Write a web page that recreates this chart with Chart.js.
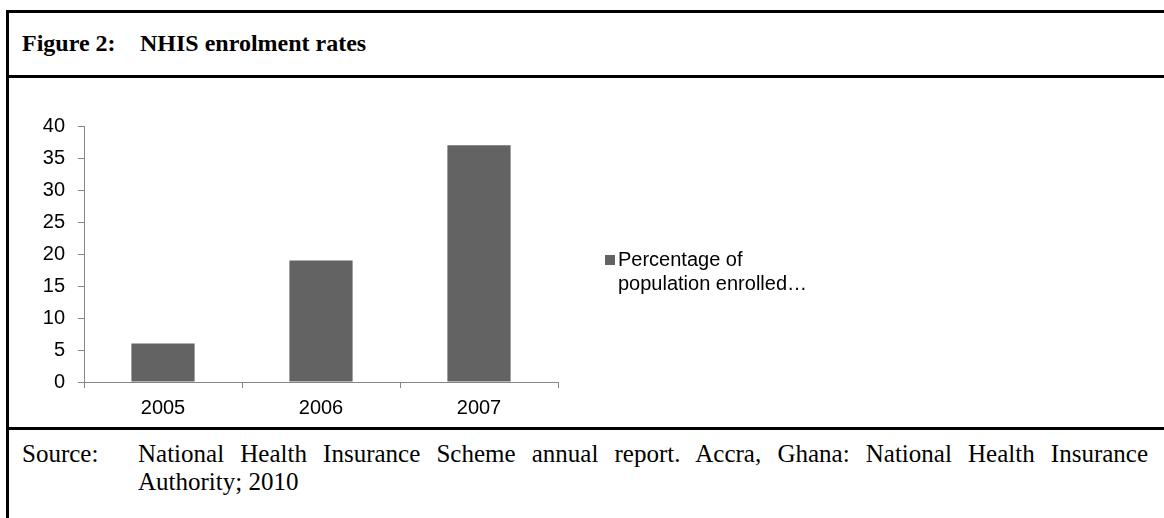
<!DOCTYPE html>
<html>
<head>
<meta charset="utf-8">
<script src="https://cdn.jsdelivr.net/npm/chart.js@4.4.1/dist/chart.umd.min.js"></script>
<style>
  html, body { margin: 0; padding: 0; background: #fff; }
  body { width: 1164px; height: 518px; position: relative; overflow: hidden; }
  .frame { position: absolute; left: 6px; top: 10px; width: 1200px; height: 600px;
           border-left: 3px solid #000; border-top: 3px solid #000; }
  .rule { position: absolute; left: 6px; width: 1200px; height: 3px; background: #000; }
  .serif { font-family: "Liberation Serif", "Times New Roman", serif; color: #000; }
  .title { position: absolute; top: 31px; font-weight: bold; font-size: 24px; line-height: 24px; white-space: nowrap; }
  #chartWrap { position: absolute; left: 9px; top: 78px; }
  .legend { position: absolute; left: 605px; top: 247px; font-family: "Liberation Sans", Arial, sans-serif;
            font-size: 20px; line-height: 24px; color: #000; }
  .legend .box { position: absolute; left: 0; top: 8px; width: 10px; height: 10px; }
  .legend .txt { margin-left: 13px; width: 200px; }
  .src { position: absolute; top: 440px; font-size: 25px; line-height: 28px; }
</style>
</head>
<body>
<div class="frame"></div>
<div class="rule" style="top:75px"></div>
<div class="rule" style="top:427px"></div>
<div class="title serif" style="left:22px">Figure 2:</div>
<div class="title serif" style="left:140px">NHIS enrolment rates</div>

<div id="chartWrap"><canvas id="nhisChart" width="1155" height="348"></canvas></div>
<div class="legend" id="legend"></div>

<div class="src serif" style="left:22px">Source:</div>
<div class="src serif" style="left:138px; width:1010px; text-align:justify; word-spacing:2px">National Health Insurance Scheme annual report. Accra, Ghana: National Health Insurance <span style="word-spacing:0">Authority; 2010</span></div>

<script>
  // Data
  const years = ['2005', '2006', '2007'];
  const enrolled = [6, 19, 37];
  const seriesLabel = 'Percentage of population enrolled…';
  const yMin = 0;
  const yMax = 40;
  const yStep = 5;

  const barColor = '#636363';
  const axisColor = '#868686';
  const tickFont = { family: '"Liberation Sans", Arial, sans-serif', size: 20 };

  // Legend (kept in HTML so it wraps like the original)
  const legend = document.getElementById('legend');
  legend.innerHTML = '<div class="box" style="background:' + barColor + '"></div>' +
                     '<div class="txt">' + seriesLabel + '</div>';

  const ctx = document.getElementById('nhisChart');
  new Chart(ctx, {
    type: 'bar',
    data: {
      labels: years,
      datasets: [{
        label: seriesLabel,
        data: enrolled,
        backgroundColor: barColor,
        borderWidth: 0,
        barPercentage: 0.4,
        categoryPercentage: 1.0
      }]
    },
    options: {
      responsive: false,
      animation: false,
      layout: { padding: { left: 0, right: 606, top: 48, bottom: 0 } },
      plugins: {
        legend: { display: false },
        tooltip: { enabled: false }
      },
      scales: {
        x: {
          grid: { offset: true, drawOnChartArea: false, tickLength: 6, color: axisColor },
          border: { color: axisColor },
          ticks: { color: '#000', font: tickFont, padding: 8 },
          afterFit: function (scale) { scale.height = 44; }
        },
        y: {
          min: yMin,
          max: yMax,
          grid: { drawOnChartArea: false, tickLength: 6, color: axisColor },
          border: { color: axisColor },
          ticks: { stepSize: yStep, color: '#000', font: tickFont, padding: 13 },
          afterFit: function (scale) { scale.width = 75; }
        }
      }
    }
  });
</script>
</body>
</html>
